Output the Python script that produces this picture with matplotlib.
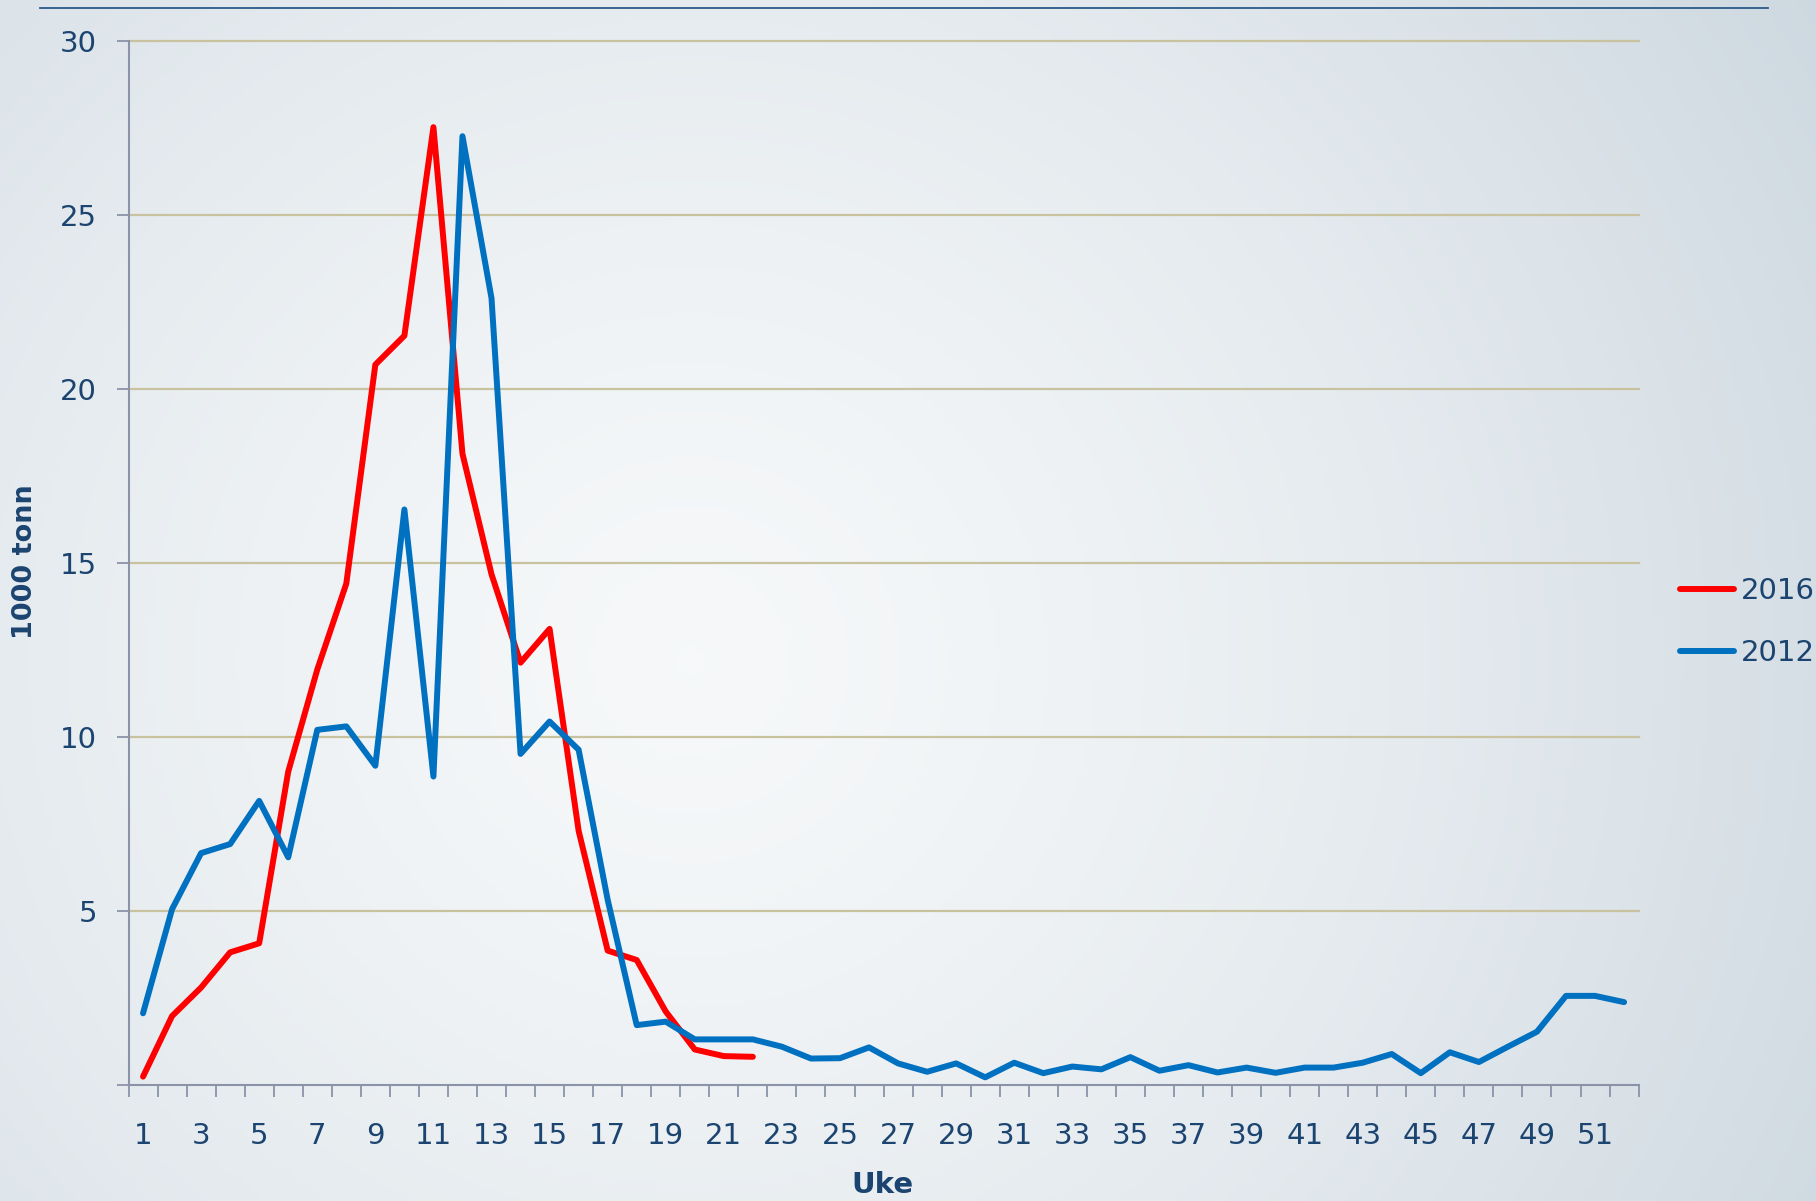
import matplotlib
matplotlib.use("Agg")
import matplotlib.pyplot as plt
import numpy as np

# Ukenummer og verdier (1000 tonn)
uker_2016 = list(range(1, 23))
tonn_2016 = [0.24, 1.98, 2.8, 3.81, 4.07, 9.0, 11.93, 14.4, 20.69, 21.52, 27.51,
             18.13, 14.67, 12.13, 13.1, 7.3, 3.86, 3.59, 2.11, 1.02, 0.83, 0.81]

uker_2012 = list(range(1, 53))
tonn_2012 = [2.06, 5.05, 6.66, 6.92, 8.16, 6.54, 10.2, 10.3, 9.17, 16.53,
             8.86, 27.25, 22.6, 9.51, 10.44, 9.63, 5.32, 1.72, 1.82, 1.31,
             1.31, 1.31, 1.10, 0.76, 0.77, 1.08, 0.62, 0.38, 0.62, 0.22,
             0.64, 0.34, 0.53, 0.45, 0.8, 0.41, 0.57, 0.36, 0.5, 0.35,
             0.5, 0.5, 0.64, 0.89, 0.34, 0.94, 0.66, 1.10, 1.53, 2.56,
             2.56, 2.38]

y_ticks = [5, 10, 15, 20, 25, 30]
x_labels = list(range(1, 52, 2))

TEKST = '#1b4470'
AKSE = '#8b93a9'
GRID = '#c9c29f'

plt.rcParams['font.family'] = ['DejaVu Sans']

fig = plt.figure(figsize=(18.16, 12.01), dpi=100)

# bakgrunn med gradient
bg = fig.add_axes([0, 0, 1, 1], zorder=-10)
gx, gy = np.meshgrid(np.linspace(0, 1, 400), np.linspace(0, 1, 300))
d = np.sqrt(((gx - 0.38) / 0.75) ** 2 + ((gy - 0.45) / 1.1) ** 2)
d = np.clip(d, 0, 1)
lys = np.array([0.965, 0.973, 0.978])
mork = np.array([0.80, 0.843, 0.875])
img = lys[None, None, :] * (1 - d[..., None] ** 1.4) + mork[None, None, :] * d[..., None] ** 1.4
bg.imshow(img, aspect='auto', extent=[0, 1, 0, 1], origin='lower')
bg.axis('off')
bg.plot([40 / 1816, 1768 / 1816], [1 - 8 / 1201] * 2, color='#2a5a8a', lw=1.3)
bg.set_xlim(0, 1)
bg.set_ylim(0, 1)

ax = fig.add_axes([128.5 / 1816, 1 - 1085 / 1201, (1638.6 - 128.5) / 1816, (1085 - 40.5) / 1201])
ax.set_facecolor('none')

ax.plot(uker_2016, tonn_2016, color='#ff0000', lw=4.3, label='2016',
        solid_capstyle='round', zorder=3)
ax.plot(uker_2012, tonn_2012, color='#0070c0', lw=4.3, label='2012',
        solid_capstyle='round', zorder=4)

ax.set_xlim(0.5, 52.5)
ax.set_ylim(0, 30)

ax.set_yticks(y_ticks)
ax.set_yticks([0], minor=True)
for v in y_ticks:
    ax.axhline(v, color=GRID, lw=1.6, zorder=1, clip_on=False)

ax.set_xticks(x_labels)
ax.set_xticklabels([str(u) for u in x_labels])
ax.set_xticks(np.arange(0.5, 53, 1), minor=True)

for s in ['top', 'right']:
    ax.spines[s].set_visible(False)
for s in ['left', 'bottom']:
    ax.spines[s].set_color(AKSE)
    ax.spines[s].set_linewidth(1.5)

ax.tick_params(axis='x', which='major', length=0, pad=27, labelsize=21, labelcolor=TEKST)
ax.tick_params(axis='x', which='minor', length=8.5, width=1.3, color=AKSE, direction='out')
ax.tick_params(axis='y', which='both', length=8.5, width=1.3, color=AKSE, direction='out',
               pad=14, labelsize=21, labelcolor=TEKST)

fig.text(25 / 1816, 1 - 562 / 1201, '1000 tonn', rotation=90, ha='center', va='center',
         fontsize=19.5, fontweight='bold', color=TEKST)
fig.text(882 / 1816, 1 - 1185 / 1201, 'Uke', ha='center', va='center',
         fontsize=21, fontweight='bold', color=TEKST)

handles, labels = ax.get_legend_handles_labels()
leg = ax.legend(handles, labels, loc='center left',
                bbox_to_anchor=(1680 / 1816, 1 - 622 / 1201),
                bbox_transform=fig.transFigure, frameon=False, fontsize=21,
                handlelength=1.85, handletextpad=0.25, labelspacing=1.15,
                borderaxespad=0, borderpad=0)
for t in leg.get_texts():
    t.set_color(TEKST)

fig.savefig('out.png', dpi=100)
